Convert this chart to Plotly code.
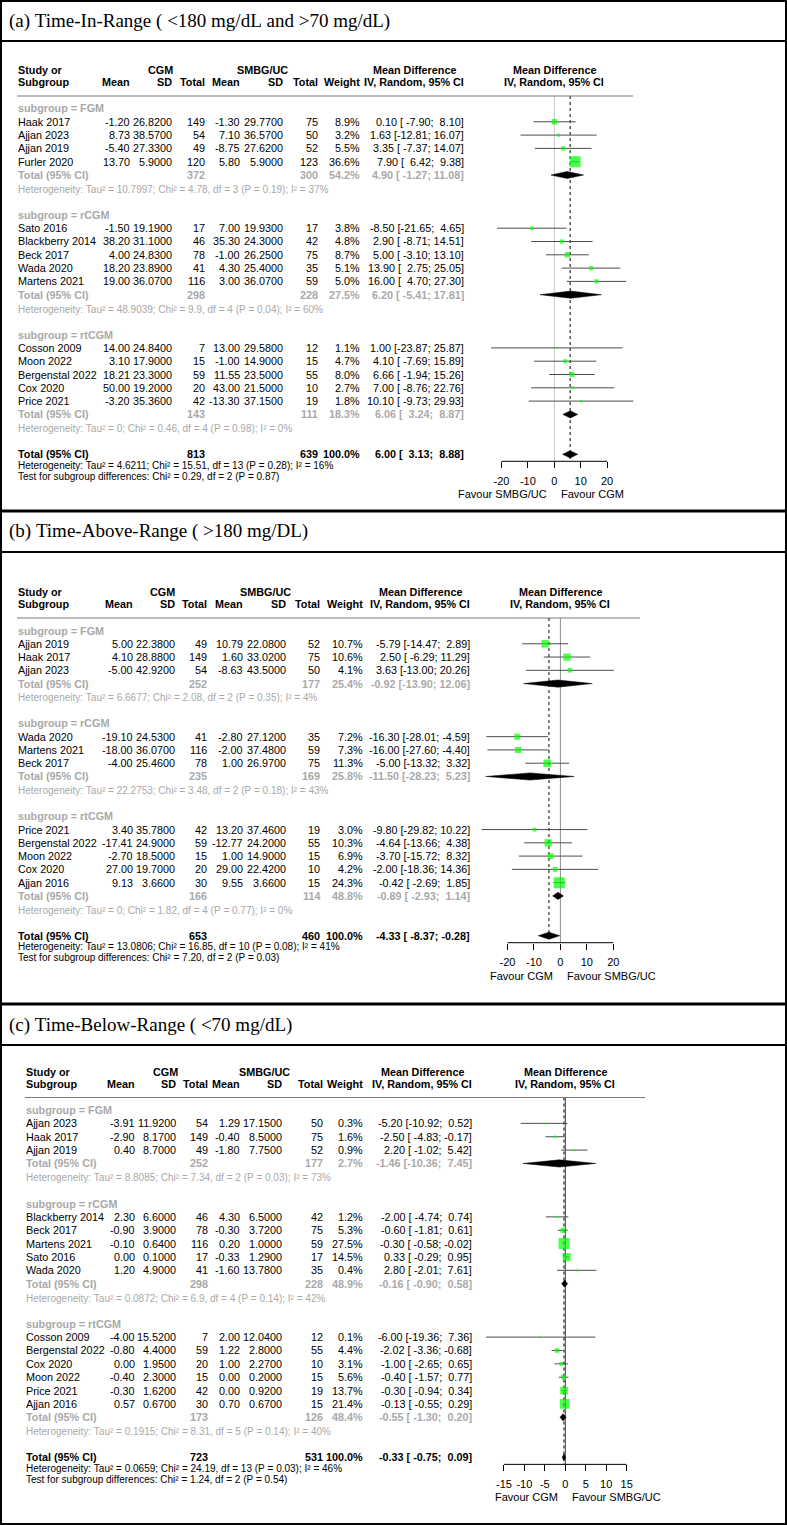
import plotly.graph_objects as go

W, H = 787, 1525
SANS = "Arial, 'Liberation Sans', Arimo, sans-serif"
SERIF = "'Times New Roman', 'Liberation Serif', serif"
GREY = "#a9a9a9"
SQ = "#00ff00"
CILINE = "#4d4d4d"

# ======================= DATA =======================
groups = ["FGM", "rCGM", "rtCGM"]

# ---- (a) Time-In-Range ----
a_title = "(a) Time-In-Range ( <180 mg/dL and >70 mg/dL)"
a_study = ["Haak 2017", "Ajjan 2023", "Ajjan 2019", "Furler 2020",
           "Sato 2016", "Blackberry 2014", "Beck 2017", "Wada 2020", "Martens 2021",
           "Cosson 2009", "Moon 2022", "Bergenstal 2022", "Cox 2020", "Price 2021"]
a_group_of = ["FGM"] * 4 + ["rCGM"] * 5 + ["rtCGM"] * 5
a_cgm_mean = [-1.20, 8.73, -5.40, 13.70, -1.50, 38.20, 4.00, 18.20, 19.00, 14.00, 3.10, 18.21, 50.00, -3.20]
a_cgm_sd = [26.82, 38.57, 27.33, 5.90, 19.19, 31.10, 24.83, 23.89, 36.07, 24.84, 17.90, 23.30, 19.20, 35.36]
a_cgm_n = [149, 54, 49, 120, 17, 46, 78, 41, 116, 7, 15, 59, 20, 42]
a_ctl_mean = [-1.30, 7.10, -8.75, 5.80, 7.00, 35.30, -1.00, 4.30, 3.00, 13.00, -1.00, 11.55, 43.00, -13.30]
a_ctl_sd = [29.77, 36.57, 27.62, 5.90, 19.93, 24.30, 26.25, 25.40, 36.07, 29.58, 14.90, 23.50, 21.50, 37.15]
a_ctl_n = [75, 50, 52, 123, 17, 42, 75, 35, 59, 12, 15, 55, 10, 19]
a_weight = [8.9, 3.2, 5.5, 36.6, 3.8, 4.8, 8.7, 5.1, 5.0, 1.1, 4.7, 8.0, 2.7, 1.8]
a_md = [0.10, 1.63, 3.35, 7.90, -8.50, 2.90, 5.00, 13.90, 16.00, 1.00, 4.10, 6.66, 7.00, 10.10]
a_lo = [-7.90, -12.81, -7.37, 6.42, -21.65, -8.71, -3.10, 2.75, 4.70, -23.87, -7.69, -1.94, -8.76, -9.73]
a_hi = [8.10, 16.07, 14.07, 9.38, 4.65, 14.51, 13.10, 25.05, 27.30, 25.87, 15.89, 15.26, 22.76, 29.93]
a_sub_n1 = [372, 298, 143]
a_sub_n2 = [300, 228, 111]
a_sub_w = [54.2, 27.5, 18.3]
a_sub_md = [4.90, 6.20, 6.06]
a_sub_lo = [-1.27, -5.41, 3.24]
a_sub_hi = [11.08, 17.81, 8.87]
a_sub_tau2 = [10.7997, 48.9039, 0]
a_sub_chi2 = [4.78, 9.9, 0.46]
a_sub_df = [3, 4, 4]
a_sub_p = [0.19, 0.04, 0.98]
a_sub_i2 = [37, 60, 0]
a_all_n = [813, 639]
a_all_md = [6.00, 3.13, 8.88]
a_all_het = [4.6211, 15.51, 13, 0.28, 16]
a_test = [0.29, 2, 0.87]
a_ticks = [-20, -10, 0, 10, 20]
a_labels = ["Favour SMBG/UC", "Favour CGM"]

# ---- (b) Time-Above-Range ----
b_title = "(b) Time-Above-Range ( >180 mg/DL)"
b_study = ["Ajjan 2019", "Haak 2017", "Ajjan 2023", "Wada 2020", "Martens 2021", "Beck 2017",
           "Price 2021", "Bergenstal 2022", "Moon 2022", "Cox 2020", "Ajjan 2016"]
b_group_of = ["FGM"] * 3 + ["rCGM"] * 3 + ["rtCGM"] * 5
b_cgm_mean = [5.00, 4.10, -5.00, -19.10, -18.00, -4.00, 3.40, -17.41, -2.70, 27.00, 9.13]
b_cgm_sd = [22.38, 28.88, 42.92, 24.53, 36.07, 25.46, 35.78, 24.90, 18.50, 19.70, 3.66]
b_cgm_n = [49, 149, 54, 41, 116, 78, 42, 59, 15, 20, 30]
b_ctl_mean = [10.79, 1.60, -8.63, -2.80, -2.00, 1.00, 13.20, -12.77, 1.00, 29.00, 9.55]
b_ctl_sd = [22.08, 33.02, 43.50, 27.12, 37.48, 26.97, 37.46, 24.20, 14.90, 22.42, 3.66]
b_ctl_n = [52, 75, 50, 35, 59, 75, 19, 55, 15, 10, 15]
b_weight = [10.7, 10.6, 4.1, 7.2, 7.3, 11.3, 3.0, 10.3, 6.9, 4.2, 24.3]
b_md = [-5.79, 2.50, 3.63, -16.30, -16.00, -5.00, -9.80, -4.64, -3.70, -2.00, -0.42]
b_lo = [-14.47, -6.29, -13.00, -28.01, -27.60, -13.32, -29.82, -13.66, -15.72, -18.36, -2.69]
b_hi = [2.89, 11.29, 20.26, -4.59, -4.40, 3.32, 10.22, 4.38, 8.32, 14.36, 1.85]
b_sub_n1 = [252, 235, 166]
b_sub_n2 = [177, 169, 114]
b_sub_w = [25.4, 25.8, 48.8]
b_sub_md = [-0.92, -11.50, -0.89]
b_sub_lo = [-13.90, -28.23, -2.93]
b_sub_hi = [12.06, 5.23, 1.14]
b_sub_tau2 = [6.6677, 22.2753, 0]
b_sub_chi2 = [2.08, 3.48, 1.82]
b_sub_df = [2, 2, 4]
b_sub_p = [0.35, 0.18, 0.77]
b_sub_i2 = [4, 43, 0]
b_all_n = [653, 460]
b_all_md = [-4.33, -8.37, -0.28]
b_all_het = [13.0806, 16.85, 10, 0.08, 41]
b_test = [7.20, 2, 0.03]
b_ticks = [-20, -10, 0, 10, 20]
b_labels = ["Favour CGM", "Favour SMBG/UC"]

# ---- (c) Time-Below-Range ----
c_title = "(c) Time-Below-Range ( <70 mg/dL)"
c_study = ["Ajjan 2023", "Haak 2017", "Ajjan 2019",
           "Blackberry 2014", "Beck 2017", "Martens 2021", "Sato 2016", "Wada 2020",
           "Cosson 2009", "Bergenstal 2022", "Cox 2020", "Moon 2022", "Price 2021", "Ajjan 2016"]
c_group_of = ["FGM"] * 3 + ["rCGM"] * 5 + ["rtCGM"] * 6
c_cgm_mean = [-3.91, -2.90, 0.40, 2.30, -0.90, -0.10, 0.00, 1.20, -4.00, -0.80, 0.00, -0.40, -0.30, 0.57]
c_cgm_sd = [11.92, 8.17, 8.70, 6.60, 3.90, 0.64, 0.10, 4.90, 15.52, 4.40, 1.95, 2.30, 1.62, 0.67]
c_cgm_n = [54, 149, 49, 46, 78, 116, 17, 41, 7, 59, 20, 15, 42, 30]
c_ctl_mean = [1.29, -0.40, -1.80, 4.30, -0.30, 0.20, -0.33, -1.60, 2.00, 1.22, 1.00, 0.00, 0.00, 0.70]
c_ctl_sd = [17.15, 8.50, 7.75, 6.50, 3.72, 1.00, 1.29, 13.78, 12.04, 2.80, 2.27, 0.20, 0.92, 0.67]
c_ctl_n = [50, 75, 52, 42, 75, 59, 17, 35, 12, 55, 10, 15, 19, 15]
c_weight = [0.3, 1.6, 0.9, 1.2, 5.3, 27.5, 14.5, 0.4, 0.1, 4.4, 3.1, 5.6, 13.7, 21.4]
c_md = [-5.20, -2.50, 2.20, -2.00, -0.60, -0.30, 0.33, 2.80, -6.00, -2.02, -1.00, -0.40, -0.30, -0.13]
c_lo = [-10.92, -4.83, -1.02, -4.74, -1.81, -0.58, -0.29, -2.01, -19.36, -3.36, -2.65, -1.57, -0.94, -0.55]
c_hi = [0.52, -0.17, 5.42, 0.74, 0.61, -0.02, 0.95, 7.61, 7.36, -0.68, 0.65, 0.77, 0.34, 0.29]
c_sub_n1 = [252, 298, 173]
c_sub_n2 = [177, 228, 126]
c_sub_w = [2.7, 48.9, 48.4]
c_sub_md = [-1.46, -0.16, -0.55]
c_sub_lo = [-10.36, -0.90, -1.30]
c_sub_hi = [7.45, 0.58, 0.20]
c_sub_tau2 = [8.8085, 0.0872, 0.1915]
c_sub_chi2 = [7.34, 6.9, 8.31]
c_sub_df = [2, 4, 5]
c_sub_p = [0.03, 0.14, 0.14]
c_sub_i2 = [73, 42, 40]
c_all_n = [723, 531]
c_all_md = [-0.33, -0.75, 0.09]
c_all_het = [0.0659, 24.19, 13, 0.03, 46]
c_test = [1.24, 2, 0.54]
c_ticks = [-15, -10, -5, 0, 5, 10, 15]
c_labels = ["Favour CGM", "Favour SMBG/UC"]

# ======================= BUILD =======================
def pack(p):
    g = globals()
    keys = ["title", "study", "group_of", "cgm_mean", "cgm_sd", "cgm_n", "ctl_mean", "ctl_sd", "ctl_n",
            "weight", "md", "lo", "hi", "sub_n1", "sub_n2", "sub_w", "sub_md", "sub_lo", "sub_hi",
            "sub_tau2", "sub_chi2", "sub_df", "sub_p", "sub_i2", "all_n", "all_md", "all_het", "test",
            "ticks", "labels"]
    return {k: g[p + "_" + k] for k in keys}

# layout (positions / styles only)
LAYOUT = {
    1: dict(title_y=21, y0=108.5, pitch=13.3, sx=17,
            cols=[131, 173, 206, 241, 284, 319, 361, 465],
            cgm_c=160, ctl_c=262, zero=554.3, scale=2.64, uline_r=633, zcol="#c8c8c8"),
    2: dict(title_y=531, y0=630.5, pitch=13.27, sx=17,
            cols=[134, 176, 208, 244, 287, 321, 364, 471],
            cgm_c=162, ctl_c=265, zero=560.4, scale=2.644, uline_r=640, zcol="#8c8c8c"),
    3: dict(title_y=1025, y0=1110, pitch=13.36, sx=25,
            cols=[136, 177, 209, 241, 283, 324, 364, 473],
            cgm_c=165, ctl_c=264, zero=565.3, scale=4.09, uline_r=645, zcol="#3a3a3a"),
}
XL, XR = 476, 654

fig = go.Figure()
ann = []
shapes = []


def T(x, y, s, anchor="left", size=10.8, color="black", bold=False, family=SANS):
    s = str(s).replace(" ", "\u00a0")
    if bold:
        s = "<b>" + s + "</b>"
    ann.append(dict(x=x / W, y=1 - y / H, xref="paper", yref="paper", text=s, showarrow=False,
                    xanchor=anchor, yanchor="middle", borderpad=0,
                    font=dict(size=size, color=color, family=family)))


def g(v):
    return f"{v:g}"


def build(k, D, P):
    xa = "x" if k == 1 else f"x{k}"
    ya = "y" if k == 1 else f"y{k}"
    y0, pitch = P["y0"], P["pitch"]
    ypx = lambda r: y0 + r * pitch
    n = len(D["study"])
    srow = [0] * n
    lrow, trow, hrow = [], [], []
    r = 0
    for grp in groups:
        lrow.append(r); r += 1
        for i in range(n):
            if D["group_of"][i] == grp:
                srow[i] = r; r += 1
        trow.append(r); r += 1
        hrow.append(r); r += 2
    orow = r
    c = P["cols"]
    sx = P["sx"]
    md_c = c[7] - 51

    all_lo = D["lo"] + D["sub_lo"] + [D["all_md"][1]]
    all_hi = D["hi"] + D["sub_hi"] + [D["all_md"][2]]
    wl = max(len(f"{v:.2f}") for v in all_lo)
    wh = max(len(f"{v:.2f}") for v in all_hi)
    ci = lambda m, l, h: f"{m:.2f} [{l:>{wl}.2f}; {h:>{wh}.2f}]"

    T(8, P["title_y"], D["title"], size=19, family=SERIF)

    h1, h2, ul = y0 - 38.5, y0 - 26.5, y0 - 12.5
    T(sx, h1, "Study or", bold=True)
    T(sx, h2, "Subgroup", bold=True)
    T(P["cgm_c"], h1, "CGM", "center", bold=True)
    T(P["ctl_c"], h1, "SMBG/UC", "center", bold=True)
    T(md_c, h1, "Mean Difference", "center", bold=True)
    T(md_c, h2, "IV, Random, 95% CI", "center", bold=True)
    for xr, s in zip(c[:7], ["Mean", "SD", "Total", "Mean", "SD", "Total", "Weight"]):
        T(xr, h2, s, "right", bold=True)
    for yy, s in [(h1, "Mean Difference"), (h2, "IV, Random, 95% CI")]:
        ann.append(dict(x=0, xref=xa, y=1 - yy / H, yref="paper", text="<b>" + s.replace(" ", "\u00a0") + "</b>",
                        showarrow=False, xanchor="center", yanchor="middle",
                        font=dict(size=10.8, color="black", family=SANS)))
    shapes.append(dict(type="line", xref="paper", yref="paper", x0=sx / W, x1=P["uline_r"] / W,
                       y0=1 - ul / H, y1=1 - ul / H, line=dict(color="#7a7a7a", width=1)))

    for i in range(n):
        yy = ypx(srow[i])
        T(sx, yy, D["study"][i])
        vals = [f"{D['cgm_mean'][i]:.2f}", f"{D['cgm_sd'][i]:.4f}", f"{D['cgm_n'][i]}",
                f"{D['ctl_mean'][i]:.2f}", f"{D['ctl_sd'][i]:.4f}", f"{D['ctl_n'][i]}",
                f"{D['weight'][i]:.1f}%", ci(D["md"][i], D["lo"][i], D["hi"][i])]
        for xr, s in zip(c, vals):
            T(xr, yy, s, "right")

    for j, grp in enumerate(groups):
        T(sx, ypx(lrow[j]), f"subgroup = {grp}", color=GREY, bold=True)
        yy = ypx(trow[j])
        T(sx, yy, "Total (95% CI)", color=GREY, bold=True)
        T(c[2], yy, D["sub_n1"][j], "right", color=GREY, bold=True)
        T(c[5], yy, D["sub_n2"][j], "right", color=GREY, bold=True)
        T(c[6], yy, f"{D['sub_w'][j]:.1f}%", "right", color=GREY, bold=True)
        T(c[7], yy, ci(D["sub_md"][j], D["sub_lo"][j], D["sub_hi"][j]), "right", color=GREY, bold=True)
        het = (f"Heterogeneity: Tau² = {g(D['sub_tau2'][j])}; Chi² = {g(D['sub_chi2'][j])}, "
               f"df = {D['sub_df'][j]} (P = {D['sub_p'][j]:.2f}); I² = {D['sub_i2'][j]}%")
        T(sx, ypx(hrow[j]) + 1, het, size=10, color=GREY)

    yo = ypx(orow)
    T(sx, yo, "Total (95% CI)", bold=True)
    T(c[2], yo, D["all_n"][0], "right", bold=True)
    T(c[5], yo, D["all_n"][1], "right", bold=True)
    T(c[6], yo, "100.0%", "right", bold=True)
    T(c[7], yo, ci(*D["all_md"]), "right", bold=True)
    hv = D["all_het"]
    T(sx, yo + 11, f"Heterogeneity: Tau² = {g(hv[0])}; Chi² = {hv[1]:.2f}, df = {hv[2]} "
                   f"(P = {hv[3]:.2f}); I² = {hv[4]}%", size=10)
    tv = D["test"]
    T(sx, yo + 22, f"Test for subgroup differences: Chi² = {tv[0]:.2f}, df = {tv[1]} (P = {tv[2]:.2f})", size=10)

    axis_px = yo + 7
    rowof = lambda px: (px - y0) / pitch
    zero, scale = P["zero"], P["scale"]
    kx = "xaxis" if k == 1 else f"xaxis{k}"
    ky = "yaxis" if k == 1 else f"yaxis{k}"
    fig.layout[kx] = dict(domain=[XL / W, XR / W], range=[(XL - zero) / scale, (XR - zero) / scale],
                          anchor="free", position=1 - axis_px / H, showgrid=False, zeroline=False,
                          showline=False, ticks="outside", ticklen=6, tickwidth=1, tickcolor="black",
                          tickvals=D["ticks"], ticktext=[str(t) for t in D["ticks"]],
                          ticklabelstandoff=3, tickfont=dict(size=11, color="black", family=SANS),
                          fixedrange=True)
    bot = axis_px + 4
    fig.layout[ky] = dict(domain=[1 - bot / H, 1 - ul / H], range=[rowof(bot), rowof(ul)],
                          visible=False, fixedrange=True)
    top_r, ax_r = rowof(ul), rowof(axis_px)

    fig.add_trace(go.Scatter(x=[0, 0], y=[top_r, ax_r], mode="lines", xaxis=xa, yaxis=ya,
                             line=dict(color=P["zcol"], width=1), hoverinfo="skip", showlegend=False))
    fig.add_trace(go.Scatter(x=[D["all_md"][0]] * 2, y=[top_r, ax_r], mode="lines", xaxis=xa, yaxis=ya,
                             line=dict(color="black", width=1, dash="dot"), hoverinfo="skip", showlegend=False))
    cx, cy = [], []
    for i in range(n):
        cx += [D["lo"][i], D["hi"][i], None]
        cy += [srow[i], srow[i], None]
    fig.add_trace(go.Scatter(x=cx, y=cy, mode="lines", xaxis=xa, yaxis=ya,
                             line=dict(color=CILINE, width=1), hoverinfo="skip", showlegend=False))
    wmax = max(D["weight"])
    sizes = [max(2.0, 11.0 * (w / wmax) ** 0.5) for w in D["weight"]]
    fig.add_trace(go.Scatter(x=D["md"], y=srow, mode="markers", xaxis=xa, yaxis=ya,
                             marker=dict(symbol="square", size=sizes, color=SQ, line=dict(width=0)),
                             hoverinfo="skip", showlegend=False))
    dh = 0.27
    dx, dy = [], []
    for m, l, hh, rr in zip(D["sub_md"] + [D["all_md"][0]], D["sub_lo"] + [D["all_md"][1]],
                            D["sub_hi"] + [D["all_md"][2]], trow + [orow]):
        dx += [l, m, hh, m, l, None]
        dy += [rr, rr - dh, rr, rr + dh, rr, None]
    fig.add_trace(go.Scatter(x=dx, y=dy, mode="lines", fill="toself", fillcolor="black", xaxis=xa, yaxis=ya,
                             line=dict(color="black", width=0.5), hoverinfo="skip", showlegend=False))
    fig.add_trace(go.Scatter(x=[D["ticks"][0], D["ticks"][-1]], y=[ax_r, ax_r], mode="lines", xaxis=xa, yaxis=ya,
                             line=dict(color="black", width=1), hoverinfo="skip", showlegend=False))
    fy = 1 - (axis_px + 33) / H
    ann.append(dict(x=0, xref=xa, y=fy, yref="paper", text=D["labels"][0].replace(" ", "\u00a0"),
                    showarrow=False, xanchor="right", yanchor="middle", xshift=-5,
                    font=dict(size=11, color="black", family=SANS)))
    ann.append(dict(x=0, xref=xa, y=fy, yref="paper", text=D["labels"][1].replace(" ", "\u00a0"),
                    showarrow=False, xanchor="left", yanchor="middle", xshift=5,
                    font=dict(size=11, color="black", family=SANS)))


build(1, pack("a"), LAYOUT[1])
build(2, pack("b"), LAYOUT[2])
build(3, pack("c"), LAYOUT[3])

shapes.append(dict(type="rect", xref="paper", yref="paper", x0=1 / W, x1=1 - 1 / W, y0=1 / H, y1=1 - 1 / H,
                   line=dict(color="black", width=2)))
for yy, wdt in [(41, 2), (511, 3), (552, 2), (1004, 3), (1045, 2)]:
    shapes.append(dict(type="line", xref="paper", yref="paper", x0=0, x1=1, y0=1 - yy / H, y1=1 - yy / H,
                       line=dict(color="black", width=wdt)))

fig.update_layout(width=W, height=H, autosize=False, margin=dict(l=0, r=0, t=0, b=0),
                  paper_bgcolor="white", plot_bgcolor="white", showlegend=False,
                  annotations=ann, shapes=shapes)
fig.write_html("out.html", config={"displayModeBar": False, "staticPlot": True},
               post_script="document.body.style.margin='0px';document.body.style.padding='0px';")
